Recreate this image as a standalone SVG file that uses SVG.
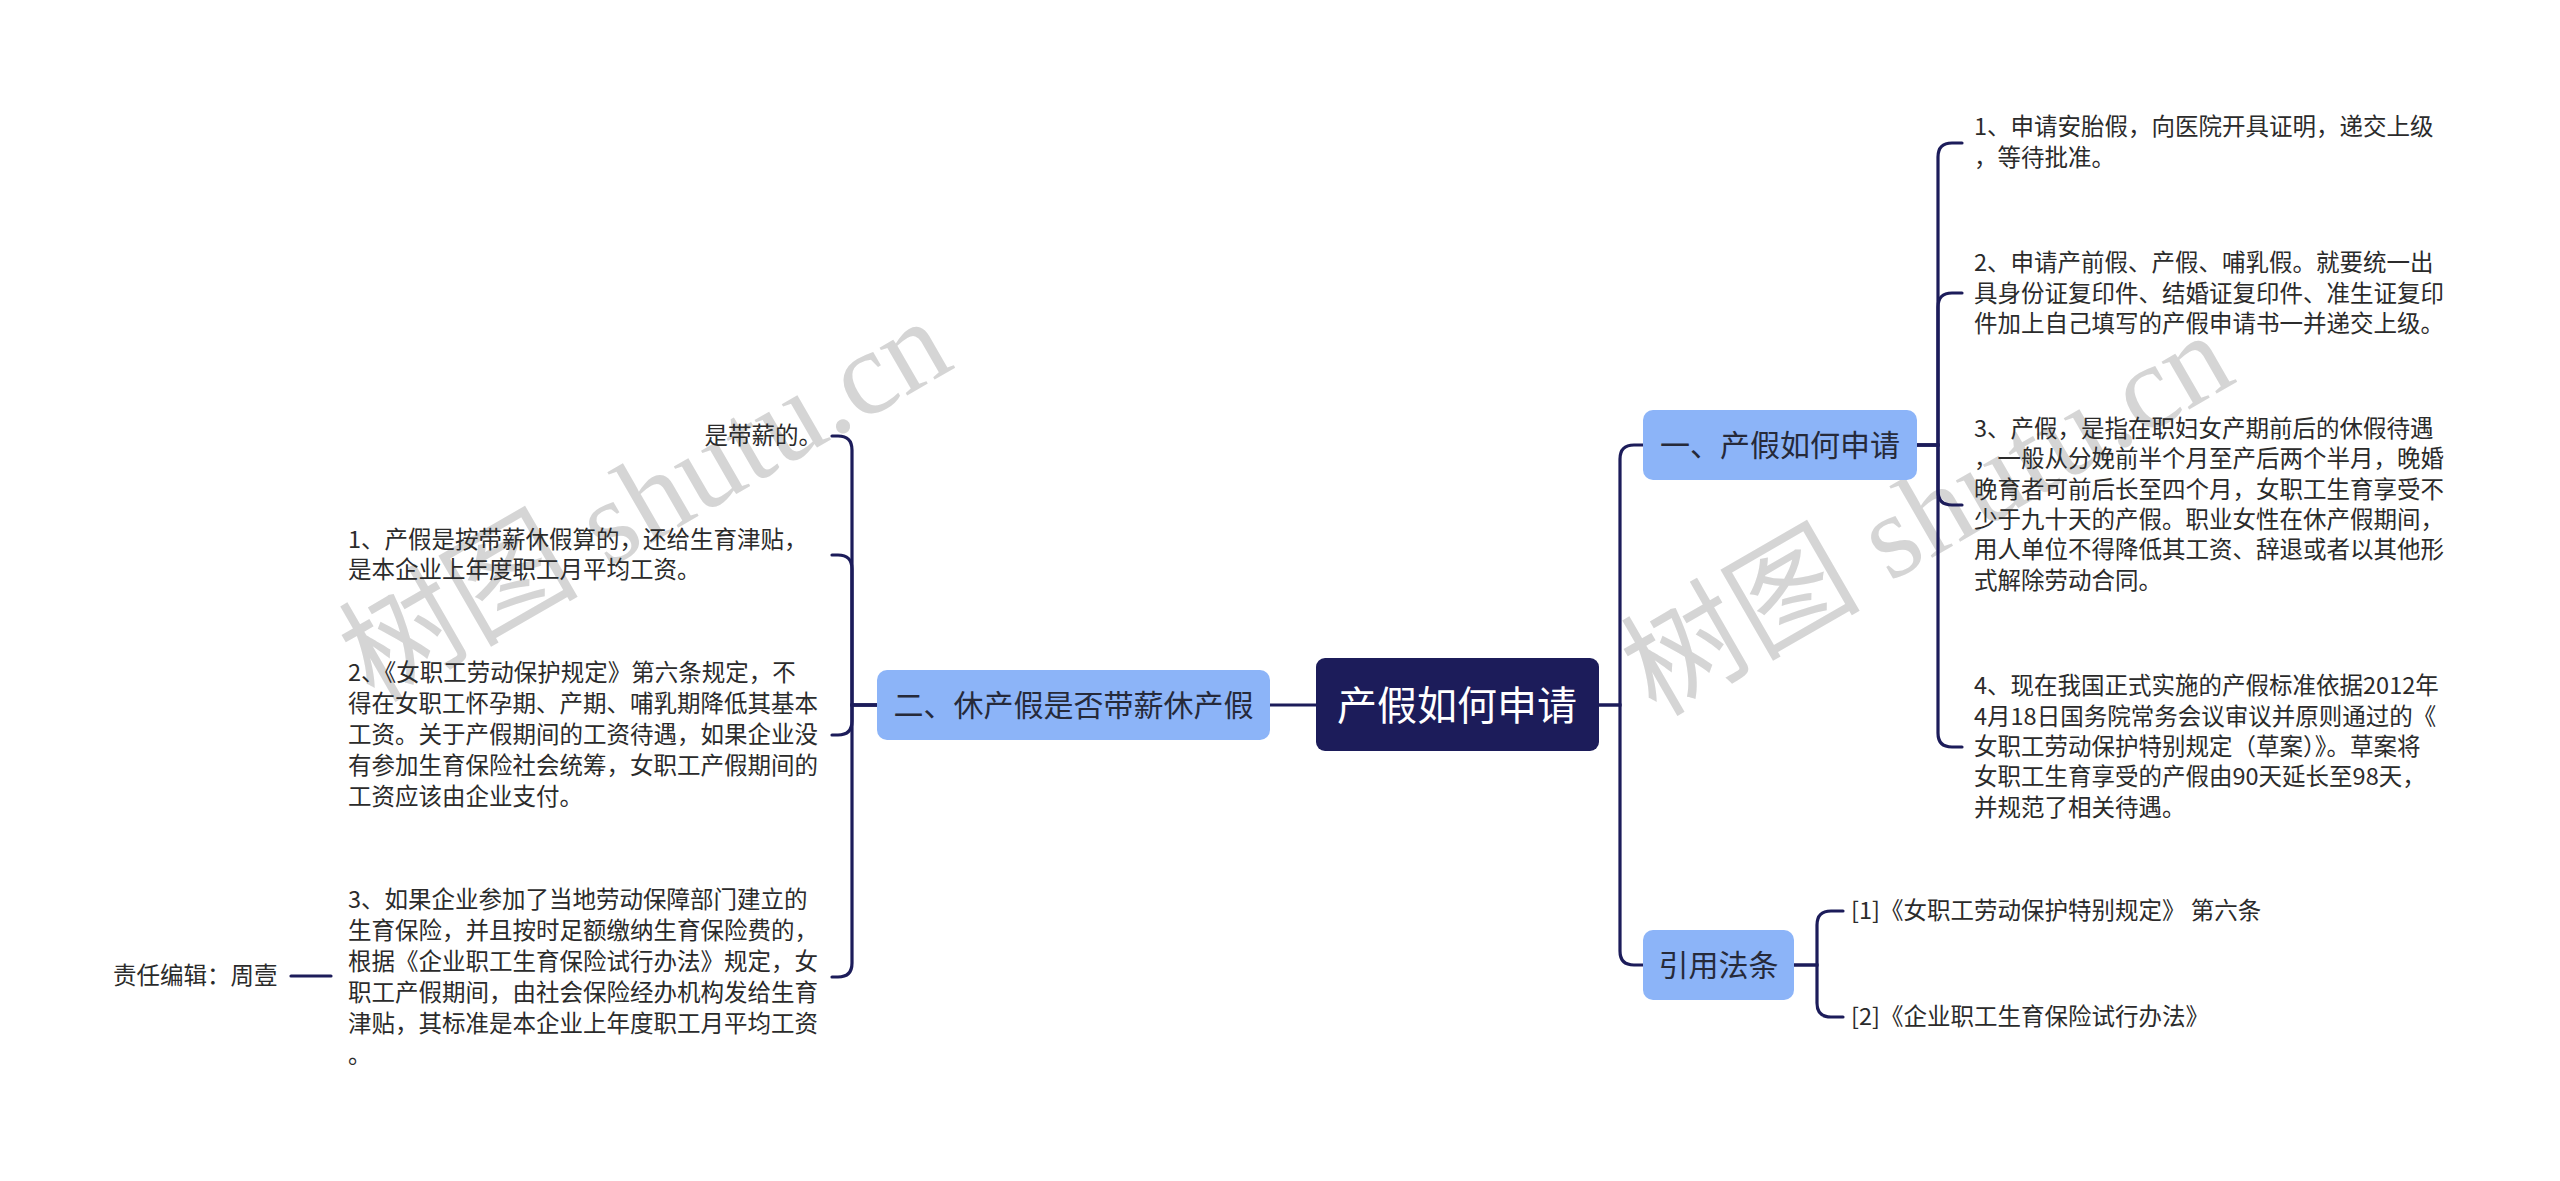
<svg xmlns="http://www.w3.org/2000/svg" width="2560" height="1181" viewBox="0 0 2560 1181">
<style>
.wm{font-family:"Liberation Serif","Noto Sans CJK SC",serif;font-size:120px;fill:#c4c4c4;opacity:0.7}
.conn{fill:none;stroke:#1c1c5a;stroke-width:3.2;stroke-linecap:round}
.root rect{fill:#1c1c5a}
.root text{font-family:"Noto Sans CJK SC","Noto Sans",sans-serif;font-size:40px;fill:#ffffff;text-anchor:middle}
.main rect{fill:#8cb4f8}
.main text{font-family:"Noto Sans CJK SC","Noto Sans",sans-serif;font-size:30px;fill:#262a3a;text-anchor:middle}
.leaf text{font-family:"Noto Sans CJK SC","Noto Sans",sans-serif;font-size:23.5px;fill:#2b2b2b}
</style>
<rect width="2560" height="1181" fill="#ffffff"/>
<g id="watermarks">
<text class="wm" transform="translate(645,500) rotate(-30)" text-anchor="middle" dominant-baseline="central">树图 shutu.cn</text>
<text class="wm" transform="translate(1927,514) rotate(-30)" text-anchor="middle" dominant-baseline="central">树图 shutu.cn</text>
</g>
<g id="connectors">
<path class="conn" d="M1598,705 H1620 V459 Q1620,445 1634,445 H1643"/>
<path class="conn" d="M1598,705 H1620 V951 Q1620,965 1634,965 H1643"/>
<path class="conn" d="M1917,445 H1938 V157 Q1938,143 1952,143 H1962"/>
<path class="conn" d="M1917,445 H1938 V307 Q1938,293 1952,293 H1962"/>
<path class="conn" d="M1917,445 H1938 V491 Q1938,505 1952,505 H1962"/>
<path class="conn" d="M1917,445 H1938 V733 Q1938,747 1952,747 H1962"/>
<path class="conn" d="M1794,965 H1817 V925 Q1817,911 1831,911 H1843"/>
<path class="conn" d="M1794,965 H1817 V1003 Q1817,1017 1831,1017 H1843"/>
<path class="conn" d="M1316,705 H1270"/>
<path class="conn" d="M877,705 H852 V450 Q852,436 838,436 H832"/>
<path class="conn" d="M877,705 H852 V569 Q852,555 838,555 H832"/>
<path class="conn" d="M877,705 H852 V721 Q852,735 838,735 H832"/>
<path class="conn" d="M877,705 H852 V963 Q852,977 838,977 H832"/>
<path class="conn" d="M291,976 H331"/>
</g>
<g id="root" class="root">
<rect x="1316" y="658" width="283" height="93" rx="9"/>
<text x="1457" y="720">产假如何申请</text>
</g>
<g id="n1" class="main">
<rect x="1643" y="410" width="274" height="70" rx="10"/>
<text x="1780" y="456">一、产假如何申请</text>
</g>
<g id="n2" class="main">
<rect x="877" y="670" width="393" height="70" rx="10"/>
<text x="1073.5" y="716">二、休产假是否带薪休产假</text>
</g>
<g id="n3" class="main">
<rect x="1643" y="930" width="151" height="70" rx="10"/>
<text x="1718.5" y="976">引用法条</text>
</g>
<g id="r1" class="leaf">
<text x="1974"><tspan x="1974" y="135">1、申请安胎假，向医院开具证明，递交上级</tspan><tspan x="1974" y="166">，等待批准。</tspan></text>
</g>
<g id="r2" class="leaf">
<text x="1974"><tspan x="1974" y="271">2、申请产前假、产假、哺乳假。就要统一出</tspan><tspan x="1974" y="302">具身份证复印件、结婚证复印件、准生证复印</tspan><tspan x="1974" y="332">件加上自己填写的产假申请书一并递交上级。</tspan></text>
</g>
<g id="r3" class="leaf">
<text x="1974"><tspan x="1974" y="437">3、产假，是指在职妇女产期前后的休假待遇</tspan><tspan x="1974" y="467">，一般从分娩前半个月至产后两个半月，晚婚</tspan><tspan x="1974" y="498">晚育者可前后长至四个月，女职工生育享受不</tspan><tspan x="1974" y="528">少于九十天的产假。职业女性在休产假期间，</tspan><tspan x="1974" y="558">用人单位不得降低其工资、辞退或者以其他形</tspan><tspan x="1974" y="589">式解除劳动合同。</tspan></text>
</g>
<g id="r4" class="leaf">
<text x="1974"><tspan x="1974" y="694">4、现在我国正式实施的产假标准依据2012年</tspan><tspan x="1974" y="725">4月18日国务院常务会议审议并原则通过的《</tspan><tspan x="1974" y="755">女职工劳动保护特别规定（草案）》。草案将</tspan><tspan x="1974" y="785">女职工生育享受的产假由90天延长至98天，</tspan><tspan x="1974" y="816">并规范了相关待遇。</tspan></text>
</g>
<g id="c1" class="leaf">
<text x="1851" y="919">[1]《女职工劳动保护特别规定》 第六条</text>
</g>
<g id="c2" class="leaf">
<text x="1851" y="1025">[2]《企业职工生育保险试行办法》</text>
</g>
<g id="l0" class="leaf">
<text x="822" y="444" text-anchor="end">是带薪的。</text>
</g>
<g id="l1" class="leaf">
<text x="348"><tspan x="348" y="548">1、产假是按带薪休假算的，还给生育津贴，</tspan><tspan x="348" y="578">是本企业上年度职工月平均工资。</tspan></text>
</g>
<g id="l2" class="leaf">
<text x="348"><tspan x="348" y="681">2、《女职工劳动保护规定》第六条规定，不</tspan><tspan x="348" y="712">得在女职工怀孕期、产期、哺乳期降低其基本</tspan><tspan x="348" y="743">工资。关于产假期间的工资待遇，如果企业没</tspan><tspan x="348" y="774">有参加生育保险社会统筹，女职工产假期间的</tspan><tspan x="348" y="805">工资应该由企业支付。</tspan></text>
</g>
<g id="l3" class="leaf">
<text x="348"><tspan x="348" y="908">3、如果企业参加了当地劳动保障部门建立的</tspan><tspan x="348" y="939">生育保险，并且按时足额缴纳生育保险费的，</tspan><tspan x="348" y="970">根据《企业职工生育保险试行办法》规定，女</tspan><tspan x="348" y="1001">职工产假期间，由社会保险经办机构发给生育</tspan><tspan x="348" y="1032">津贴，其标准是本企业上年度职工月平均工资</tspan><tspan x="348" y="1063">。</tspan></text>
</g>
<g id="editor" class="leaf">
<text x="113" y="984">责任编辑：周壹</text>
</g>
</svg>
